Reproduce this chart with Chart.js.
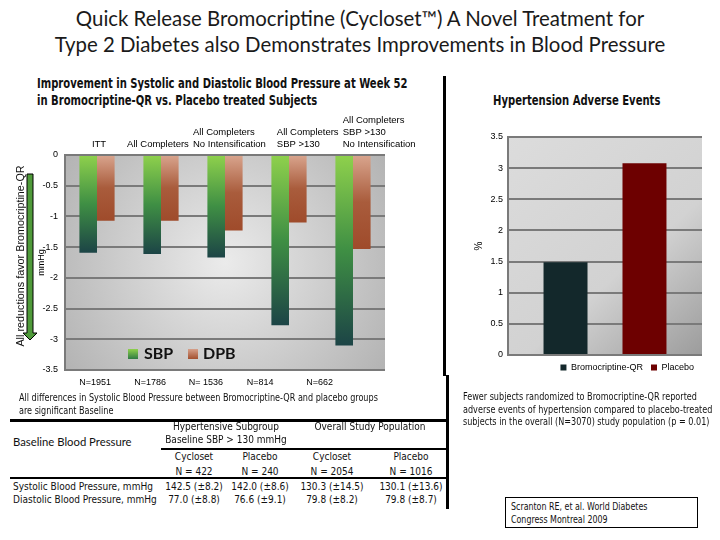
<!DOCTYPE html>
<html>
<head>
<meta charset="utf-8">
<script src="https://cdn.jsdelivr.net/npm/chart.js@4.4.0/dist/chart.umd.min.js"></script>
<style>
  body { margin: 0; width: 720px; height: 540px; background: #fff; position: relative; overflow: hidden; font-family: Lato, 'Open Sans', sans-serif; color: #111; }
  .abs { position: absolute; white-space: nowrap; }
  .narrow { font-family: 'Liberation Sans Narrow', 'DejaVu Sans Condensed', Lato, sans-serif; }
  .squeeze { transform-origin: 0 0; }
  #mainTitle { left: 0; top: 5px; width: 720px; text-align: center; font-size: 20.4px; line-height: 26px; color: #1a1a1a; }
  #bpTitle { left: 37px; top: 75px; font-size: 13.5px; font-weight: bold; line-height: 17px; transform: scaleX(0.826); }
  #aeTitle { left: 493px; top: 92px; font-size: 13.5px; font-weight: bold; transform: scaleX(0.827); }
  .cell { position: absolute; white-space: nowrap; transform: translateX(-50%); font-size: 10px; line-height: 12px; }
  .rule { position: absolute; background: #000; }
</style>
</head>
<body>
<div id="mainTitle" class="abs">Quick Release Bromocriptine (Cycloset™) A Novel Treatment for<br>Type 2 Diabetes also Demonstrates Improvements in Blood Pressure</div>

<div id="bpTitle" class="abs narrow squeeze">Improvement in Systolic and Diastolic Blood Pressure at Week 52<br>in Bromocriptine-QR vs. Placebo treated Subjects</div>
<div id="aeTitle" class="abs narrow squeeze">Hypertension Adverse Events</div>

<canvas id="bpChart" class="abs" style="left:0;top:108px" width="440" height="287"></canvas>
<canvas id="aeChart" class="abs" style="left:455px;top:125px" width="265" height="259"></canvas>

<!-- arrow and side note -->
<svg class="abs" style="left:22px;top:172px" width="16" height="172">
  <polygon points="5,2 11,2 11,161 15,161 8,168 1,161 5,161" fill="#4f9a3a" stroke="#000" stroke-width="1"/>
</svg>
<div class="abs" style="left:20px;top:256px;transform:translate(-50%,-50%) rotate(-90deg);font-family:'Liberation Sans',Arial,sans-serif;font-size:10.8px;">All reductions favor Bromocriptine-QR</div>

<!-- in-plot legend -->
<div class="abs" style="left:128px;top:349px;width:10px;height:10px;background:linear-gradient(#8fd14c,#2f7a45)"></div>
<div class="abs" style="left:144px;top:343px;font-size:16px;font-weight:bold;">SBP</div>
<div class="abs" style="left:188px;top:349px;width:10px;height:10px;background:linear-gradient(#d6a08a,#a3502f)"></div>
<div class="abs" style="left:203px;top:343px;font-size:16px;font-weight:bold;">DPB</div>

<!-- separators -->
<div class="rule" style="left:443px;top:76px;width:3px;height:300px"></div>
<div class="rule" style="left:446px;top:375px;width:3px;height:134px"></div>

<div class="abs narrow squeeze" style="left:19px;top:391px;font-size:10px;line-height:13px;transform:scaleX(0.9);">All differences in Systolic Blood Pressure between Bromocriptine-QR and placebo groups<br>are significant Baseline</div>

<div class="abs narrow squeeze" style="left:463px;top:391px;font-size:10px;line-height:12.5px;transform:scaleX(0.9);">Fewer subjects randomized to Bromocriptine-QR reported<br>adverse events of hypertension compared to placebo-treated<br>subjects in the overall (N=3070) study population (p = 0.01)</div>

<div class="abs" style="left:505px;top:497px;width:186px;height:27px;border:1.5px solid #000;padding:2px 0 0 5px;">
  <div class="narrow squeeze" style="font-size:10px;line-height:13px;transform:scaleX(0.88);white-space:nowrap;">Scranton RE, et al. World Diabetes<br>Congress Montreal 2009</div>
</div>

<div id="table"></div>

<script>
// left chart: change in blood pressure at week 52 (mmHg)
const bpCategories = [['ITT'], ['All Completers'], ['All Completers', 'No Intensification'], ['All Completers', 'SBP >130'], ['All Completers', 'SBP >130', 'No Intensification']];
const bpSampleSizes = ['N=1951', 'N=1786', 'N= 1536', 'N=814', 'N=662'];
const sbpChange = [-1.59, -1.61, -1.67, -2.77, -3.10];
const dbpChange = [-1.07, -1.07, -1.23, -1.10, -1.53];
const bpTicks = [0, -0.5, -1, -1.5, -2, -2.5, -3, -3.5];

// right chart: hypertension adverse events (%)
const aeGroups = ['Bromocriptine-QR', 'Placebo'];
const aeRates = [1.49, 3.08];
const aeTicks = [0, 0.5, 1, 1.5, 2, 2.5, 3, 3.5];

// baseline table
const tableGroups = [['Hypertensive Subgroup', 'Baseline SBP > 130 mmHg'], ['Overall Study Population']];
const tableColumns = ['Cycloset', 'Placebo', 'Cycloset', 'Placebo'];
const tableN = ['N = 422', 'N = 240', 'N = 2054', 'N = 1016'];
const tableRows = ['Systolic Blood Pressure, mmHg', 'Diastolic Blood Pressure, mmHg'];
const sbpBaseline = ['142.5 (±8.2)', '142.0 (±8.6)', '130.3 (±14.5)', '130.1 (±13.6)'];
const dbpBaseline = ['77.0 (±8.8)', '76.6 (±9.1)', '79.8 (±8.2)', '79.8 (±8.7)'];

// label anchor points (in category units) - the slide's text boxes don't sit centred on the bars
const headerAnchors = [-0.08, 0.47, 1.5, 2.81, 3.84];
const sampleAnchors = [-0.03, 0.83, 1.7, 2.55, 3.48];

Chart.defaults.font.family = "'Liberation Sans', Arial, sans-serif";
Chart.defaults.font.size = 10;
Chart.defaults.color = '#000';

// gray plot background behind the bars
const plotBackground = {
  id: 'plotBackground',
  beforeDraw(chart, args, opts) {
    const { ctx, chartArea: a } = chart;
    let g;
    if (opts.radial) {
      const cx = (a.left + a.right) / 2, cy = (a.top + a.bottom) / 2;
      g = ctx.createRadialGradient(cx, cy, 0, cx, cy, Math.max(a.width, a.height) * 0.72);
      g.addColorStop(0, '#ebebeb');
      g.addColorStop(1, '#a8a8a8');
    } else {
      g = ctx.createLinearGradient(a.left, a.top, a.right, a.bottom);
      g.addColorStop(0, '#dcdcdc');
      g.addColorStop(0.6, '#d2d2d2');
      g.addColorStop(1, '#9c9c9c');
    }
    ctx.save();
    ctx.fillStyle = g;
    ctx.fillRect(a.left, a.top, a.width, a.height);
    ctx.restore();
  }
};

function barGradient(stops) {
  return (ctx) => {
    const chart = ctx.chart;
    if (!chart.chartArea || ctx.type !== 'data') return stops[stops.length - 1];
    const y = chart.scales.y;
    const g = chart.ctx.createLinearGradient(0, y.getPixelForValue(0), 0, y.getPixelForValue(ctx.raw));
    stops.forEach((c, i) => g.addColorStop(i / (stops.length - 1), c));
    return g;
  };
}

// a text-only axis lined up with the category slots
function labelAxis(position, anchors, texts, tickOpts, height) {
  return {
    type: 'linear',
    position: position,
    offset: false,
    min: -0.5,
    max: texts.length - 0.5,
    grid: { display: false, drawTicks: false, offset: false },
    border: { display: false },
    afterBuildTicks: (s) => { s.ticks = anchors.map(v => ({ value: v })); },
    ticks: Object.assign({ autoSkip: false, maxRotation: 0, callback: (v, i) => texts[i] }, tickOpts),
    afterFit: (s) => { s.height = height; }
  };
}

new Chart(document.getElementById('bpChart'), {
  type: 'bar',
  data: {
    labels: bpCategories,
    datasets: [
      { label: 'SBP', data: sbpChange, backgroundColor: barGradient(['#8fd14c', '#3f8f44', '#1c4446']) },
      { label: 'DPB', data: dbpChange, backgroundColor: barGradient(['#d9a58e', '#a95c3c', '#9f4b2b']) }
    ]
  },
  options: {
    responsive: false,
    animation: false,
    categoryPercentage: 0.55,
    barPercentage: 1,
    layout: { padding: { left: 32, right: 55, top: 0, bottom: 0 } },
    plugins: { legend: { display: false }, tooltip: { enabled: false }, plotBackground: { radial: true } },
    scales: {
      x: { display: false },
      xTop: labelAxis('top', headerAnchors, bpCategories, { padding: 4, align: 'start', font: { size: 9.5, lineHeight: 1.3 } }, 47),
      xN: labelAxis('bottom', sampleAnchors, bpSampleSizes, { padding: 7, font: { size: 9 } }, 25),
      y: {
        min: -3.5,
        max: 0,
        afterBuildTicks: (s) => { s.ticks = bpTicks.map(v => ({ value: v })); },
        ticks: { padding: 7, font: { size: 9 }, callback: (v) => String(v) },
        grid: { color: '#7a7a7a', lineWidth: 2, drawTicks: false },
        border: { color: '#7a7a7a', width: 2 },
        title: { display: true, text: 'mmHg', font: { size: 9 }, padding: 4 },
        afterFit: (s) => { s.width = 33; }
      }
    }
  },
  plugins: [plotBackground]
});

new Chart(document.getElementById('aeChart'), {
  type: 'bar',
  data: {
    labels: [''],
    datasets: [
      { label: aeGroups[0], data: [aeRates[0]], backgroundColor: '#13282b' },
      { label: aeGroups[1], data: [aeRates[1]], backgroundColor: '#6d0000' }
    ]
  },
  options: {
    responsive: false,
    animation: false,
    categoryPercentage: 0.814,
    barPercentage: 0.557,
    layout: { padding: { left: 14, right: 18, top: 12, bottom: 2 } },
    plugins: {
      tooltip: { enabled: false },
      plotBackground: { radial: false },
      legend: {
        position: 'bottom',
        align: 'end',
        labels: { boxWidth: 6, boxHeight: 6, padding: 8, font: { size: 9 } }
      }
    },
    scales: {
      x: { display: false },
      y: {
        min: 0,
        max: 3.5,
        afterBuildTicks: (s) => { s.ticks = aeTicks.map(v => ({ value: v })); },
        ticks: { padding: 5, font: { size: 9 }, callback: (v) => String(v) },
        grid: { color: '#7a7a7a', lineWidth: 2, drawTicks: false },
        border: { color: '#7a7a7a', width: 2 },
        title: { display: true, text: '%', font: { size: 10 }, padding: 4 },
        afterFit: (s) => { s.width = 39; }
      }
    }
  },
  plugins: [plotBackground]
});

// baseline blood pressure table
const table = document.getElementById('table');
const colX = [194, 260, 332, 411];
const groupX = [226, 370];
function put(text, x, y, extra) {
  const d = document.createElement('div');
  d.className = 'cell narrow';
  d.style.left = x + 'px';
  d.style.top = (y - 6) + 'px';
  if (extra) Object.assign(d.style, extra);
  d.textContent = text;
  table.appendChild(d);
}
function rule(x, y, w, h) {
  const d = document.createElement('div');
  d.className = 'rule';
  Object.assign(d.style, { left: x + 'px', top: y + 'px', width: w + 'px', height: h + 'px' });
  table.appendChild(d);
}
rule(10, 419, 438, 2.5);
rule(161, 448, 287, 2);
rule(10, 477, 438, 1.5);
put('Baseline Blood Pressure', 13, 442, { transform: 'none', fontSize: '11.3px', fontFamily: 'Lato, sans-serif' });
tableGroups.forEach((lines, g) => lines.forEach((t, i) => put(t, groupX[g], 427 + i * 13)));
tableColumns.forEach((t, i) => put(t, colX[i], 457));
tableN.forEach((t, i) => put(t, colX[i], 472));
tableRows.forEach((t, r) => put(t, 13, 487 + r * 13, { transform: 'none' }));
sbpBaseline.forEach((t, i) => put(t, colX[i], 487));
dbpBaseline.forEach((t, i) => put(t, colX[i], 500));
</script>
</body>
</html>
